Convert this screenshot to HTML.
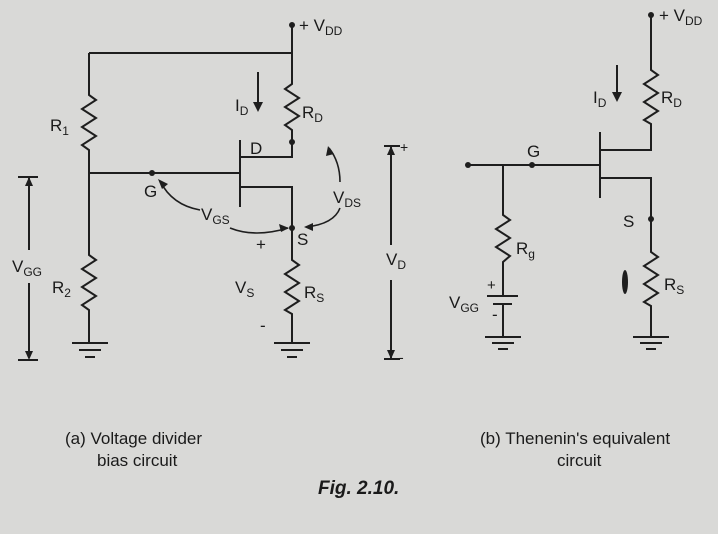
<!DOCTYPE html>
<html><head><meta charset="utf-8"><style>
html,body{margin:0;padding:0;background:#d9d9d7;}
svg{display:block;}
text{font-family:"Liberation Sans",sans-serif;fill:#1a1a1a;}
</style></head><body>
<svg width="718" height="534" viewBox="0 0 718 534" xmlns="http://www.w3.org/2000/svg">
<rect width="718" height="534" fill="#d9d9d7"/>
<g stroke="#1e1e1e" stroke-width="2" fill="none" stroke-linejoin="miter">
<!-- LEFT CIRCUIT -->
<polyline points="292,25 292,78"/>
<polyline points="89,53 292,53"/>
<polyline points="89,53 89,95 96,100 82,109 96,118 82,127 96,136 82,145 89,150 89,255 96,260 82,269 96,278 82,287 96,296 82,305 89,310 89,343"/>
<line x1="72" y1="343" x2="108" y2="343"/><line x1="79" y1="350" x2="101" y2="350"/><line x1="85" y1="357" x2="95" y2="357"/>
<line x1="89" y1="173" x2="240" y2="173"/>
<line x1="240" y1="140" x2="240" y2="207"/>
<polyline points="241,157 292,157 292,130 285,125 299,116 285,107 299,98 285,89 292,84 292,78"/>
<polyline points="241,187 292,187 292,260 299,265 285,274 299,283 285,292 299,301 285,310 292,314 292,343"/>
<line x1="274" y1="343" x2="310" y2="343"/><line x1="281" y1="350" x2="303" y2="350"/><line x1="287" y1="357" x2="297" y2="357"/>
<line x1="258" y1="72" x2="258" y2="104"/>
<!-- VGG -->
<line x1="29" y1="177" x2="29" y2="250"/><line x1="29" y1="283" x2="29" y2="358"/>
<line x1="18" y1="177" x2="38" y2="177"/><line x1="18" y1="360" x2="38" y2="360"/>
<!-- VD -->
<line x1="391" y1="146" x2="391" y2="245"/><line x1="391" y1="280" x2="391" y2="358"/>
<line x1="384" y1="146" x2="400" y2="146"/><line x1="384" y1="359" x2="400" y2="359"/>
<!-- curves -->
<path d="M200,210 Q172,205 160,181" stroke-width="1.6"/>
<path d="M230,228 Q255,238 288,228" stroke-width="1.6"/>
<path d="M340,182 Q340,162 329,148" stroke-width="1.6"/>
<path d="M340,208 Q334,224 306,227" stroke-width="1.6"/>
<!-- RIGHT CIRCUIT -->
<polyline points="651,15 651,70 658,75 644,84 658,93 644,102 658,111 644,120 651,124 651,150 601,150"/>
<line x1="600" y1="132" x2="600" y2="198"/>
<polyline points="601,178 651,178 651,252 658,257 644,266 658,275 644,284 658,293 644,302 651,306 651,337"/>
<line x1="633" y1="337" x2="669" y2="337"/><line x1="640" y1="343" x2="662" y2="343"/><line x1="646" y1="349" x2="656" y2="349"/>
<line x1="468" y1="165" x2="600" y2="165"/>
<polyline points="503,165 503,215 510,220 496,229 510,238 496,247 510,256 503,262 503,296"/>
<line x1="487" y1="296" x2="518" y2="296"/><line x1="493" y1="304" x2="512" y2="304"/>
<line x1="503" y1="304" x2="503" y2="337"/>
<line x1="485" y1="337" x2="521" y2="337"/><line x1="492" y1="343" x2="514" y2="343"/><line x1="498" y1="349" x2="508" y2="349"/>
<line x1="617" y1="65" x2="617" y2="94"/>
</g>
<g fill="#1e1e1e">
<circle cx="292" cy="25" r="3"/><circle cx="292" cy="142" r="3"/><circle cx="152" cy="173" r="3"/><circle cx="292" cy="228" r="3"/>
<polygon points="253,102 263,102 258,112"/>
<polygon points="25,186 33,186 29,177"/><polygon points="25,351 33,351 29,360"/>
<polygon points="387,155 395,155 391,146"/><polygon points="387,350 395,350 391,359"/>
<polygon points="158,179 168,184 162,189"/>
<polygon points="289,228 279,224 281,232"/>
<polygon points="328,146 326,156 334,154"/>
<polygon points="304,227 313,223 313,231"/>
<circle cx="651" cy="15" r="3"/><circle cx="468" cy="165" r="3"/><circle cx="532" cy="165" r="3"/><circle cx="651" cy="219" r="3"/>
<polygon points="612,92 622,92 617,102"/>
<ellipse cx="625" cy="282" rx="3" ry="12"/>
</g>
<g font-size="17">
<text x="299" y="31">+ V<tspan font-size="12" dy="4">DD</tspan></text>
<text x="235" y="111">I<tspan font-size="12" dy="4">D</tspan></text>
<text x="302" y="118">R<tspan font-size="12" dy="4">D</tspan></text>
<text x="50" y="131">R<tspan font-size="12" dy="4">1</tspan></text>
<text x="250" y="154">D</text>
<text x="144" y="197">G</text>
<text x="201" y="220">V<tspan font-size="12" dy="4">GS</tspan></text>
<text x="333" y="203">V<tspan font-size="12" dy="4">DS</tspan></text>
<text x="297" y="245">S</text>
<text x="256" y="250">+</text>
<text x="12" y="272">V<tspan font-size="12" dy="4">GG</tspan></text>
<text x="386" y="265">V<tspan font-size="12" dy="4">D</tspan></text>
<text x="52" y="293">R<tspan font-size="12" dy="4">2</tspan></text>
<text x="235" y="293">V<tspan font-size="12" dy="4">S</tspan></text>
<text x="304" y="298">R<tspan font-size="12" dy="4">S</tspan></text>
<text x="260" y="331">-</text>
<text x="400" y="152" font-size="14">+</text>
<text x="399" y="362" font-size="14">-</text>
<text x="659" y="21">+ V<tspan font-size="12" dy="4">DD</tspan></text>
<text x="593" y="103">I<tspan font-size="12" dy="4">D</tspan></text>
<text x="661" y="103">R<tspan font-size="12" dy="4">D</tspan></text>
<text x="527" y="157">G</text>
<text x="623" y="227">S</text>
<text x="516" y="254">R<tspan font-size="12" dy="4">g</tspan></text>
<text x="664" y="290">R<tspan font-size="12" dy="4">S</tspan></text>
<text x="487" y="290" font-size="15">+</text>
<text x="449" y="308">V<tspan font-size="12" dy="4">GG</tspan></text>
<text x="492" y="320">-</text>
<text x="65" y="444">(a) Voltage divider</text>
<text x="97" y="466">bias circuit</text>
<text x="480" y="444">(b) Thenenin's equivalent</text>
<text x="557" y="466">circuit</text>
</g>
<text x="318" y="494" font-family="Liberation Serif,serif" font-size="19" font-style="italic" font-weight="bold">Fig. 2.10.</text>
</svg>
</body></html>
